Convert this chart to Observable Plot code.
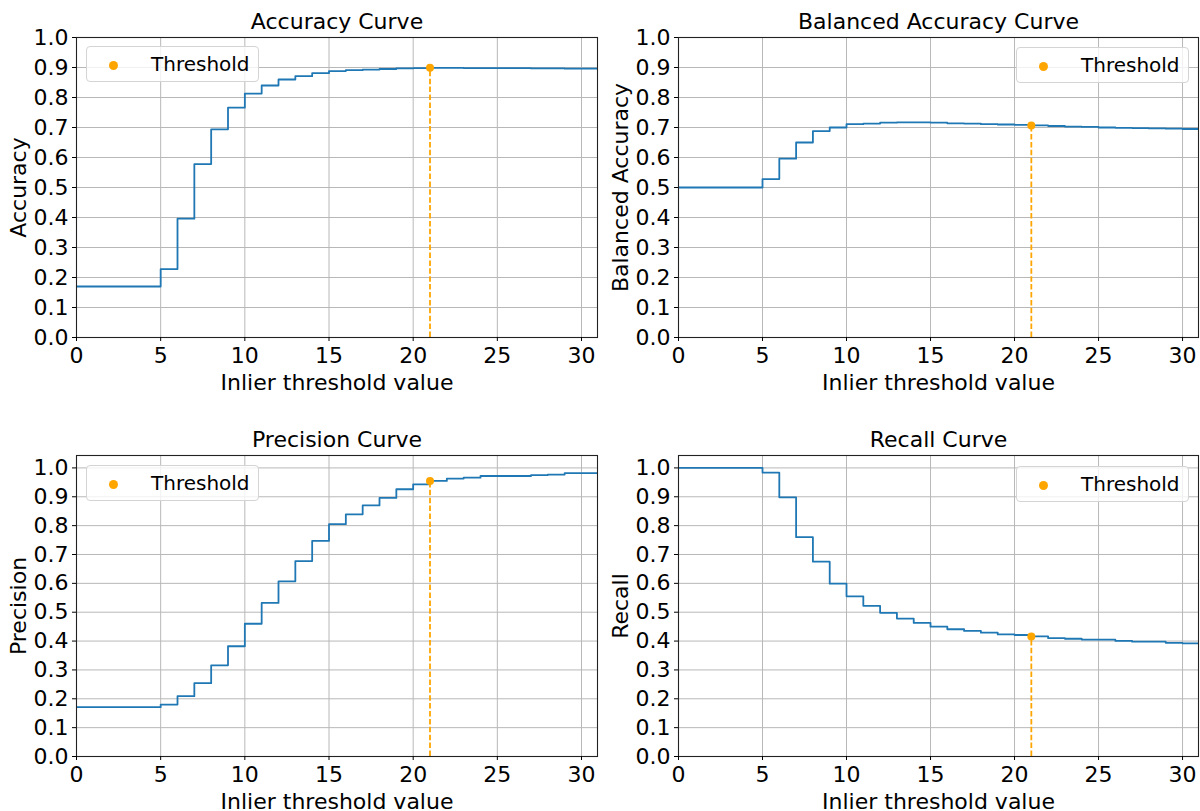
<!DOCTYPE html>
<html>
<head>
<meta charset="utf-8">
<script src="https://cdn.jsdelivr.net/npm/d3@7"></script>
<script src="https://cdn.jsdelivr.net/npm/@observablehq/plot@0.6"></script>
<style>
  html, body { margin: 0; padding: 0; background: #fff; }
  #fig { position: relative; width: 1200px; height: 811px; overflow: hidden; font-family: "DejaVu Sans", sans-serif; }
  .panel { position: absolute; }
  .legend { position: absolute; box-sizing: border-box; border: 1px solid #d4d4d4; border-radius: 4px; background: rgba(255,255,255,0.8); width: 173px; height: 36px; }
  .legend .dot { position: absolute; width: 9px; height: 9px; border-radius: 50%; background: orange; left: 22px; top: 14px; }
  .legend .lab { position: absolute; left: 64px; top: 7px; font-size: 20px; line-height: 20px; color: #000; white-space: nowrap; }
</style>
</head>
<body>
<div id="fig"></div>
<script>
// Inlier threshold values
const thresholds = [0,1,2,3,4,5,6,7,8,9,10,11,12,13,14,15,16,17,18,19,20,21,22,23,24,25,26,27,28,29,30,31];
const accuracy = [0.17,0.17,0.17,0.17,0.17,0.228,0.396,0.578,0.694,0.766,0.813,0.840,0.860,0.871,0.881,0.888,0.891,0.893,0.895,0.897,0.898,0.899,0.899,0.898,0.898,0.898,0.898,0.897,0.897,0.896,0.896,0.896];
const balancedAccuracy = [0.5,0.5,0.5,0.5,0.5,0.528,0.596,0.650,0.688,0.700,0.711,0.713,0.716,0.717,0.717,0.716,0.714,0.713,0.711,0.710,0.709,0.707,0.705,0.703,0.702,0.700,0.699,0.698,0.697,0.696,0.695,0.694];
const precision = [0.171,0.171,0.171,0.171,0.171,0.180,0.209,0.254,0.316,0.382,0.460,0.532,0.607,0.677,0.747,0.805,0.839,0.870,0.896,0.926,0.943,0.955,0.963,0.966,0.972,0.972,0.972,0.975,0.977,0.982,0.982,0.982];
const recall = [1.0,1.0,1.0,1.0,1.0,0.984,0.898,0.760,0.675,0.599,0.555,0.522,0.498,0.478,0.463,0.450,0.441,0.435,0.429,0.423,0.421,0.416,0.410,0.408,0.405,0.405,0.401,0.398,0.398,0.394,0.392,0.392];
const chosenThreshold = 21;
const xTicks = [0,5,10,15,20,25,30];
const yTicks = [0.0,0.1,0.2,0.3,0.4,0.5,0.6,0.7,0.8,0.9,1.0];
const legendLabel = "Threshold";
const xLabel = "Inlier threshold value";

const panels = [
  {title: "Accuracy Curve", ylabel: "Accuracy", values: accuracy, left: 0, top: 0, width: 600, height: 405, ml: 76, mr: 3, mt: 37, mb: 68, ymax: 1.0, legend: {left: 86, top: 46}},
  {title: "Balanced Accuracy Curve", ylabel: "Balanced Accuracy", values: balancedAccuracy, left: 600, top: 0, width: 600, height: 405, ml: 78, mr: 2, mt: 37, mb: 68, ymax: 1.0, legend: {left: 1016, top: 47}},
  {title: "Precision Curve", ylabel: "Precision", values: precision, left: 0, top: 405, width: 600, height: 406, ml: 76, mr: 3, mt: 50, mb: 55, ymax: 1.043, legend: {left: 86, top: 465}},
  {title: "Recall Curve", ylabel: "Recall", values: recall, left: 600, top: 405, width: 600, height: 406, ml: 78, mr: 2, mt: 50, mb: 55, ymax: 1.043, legend: {left: 1016, top: 466}}
];

const fig = document.getElementById("fig");

for (const p of panels) {
  const data = thresholds.map((t, i) => ({x: t, y: p.values[i]}));
  const thrVal = p.values[thresholds.indexOf(chosenThreshold)];
  const thr = [{x: chosenThreshold, y: thrVal, y0: 0}];
  const chart = Plot.plot({
    width: p.width,
    height: p.height,
    marginLeft: p.ml,
    marginRight: p.mr,
    marginTop: p.mt,
    marginBottom: p.mb,
    style: {fontFamily: "DejaVu Sans, sans-serif", fontSize: "22px", background: "transparent", overflow: "visible"},
    x: {domain: [0, 30.95]},
    y: {domain: [0, p.ymax]},
    marks: [
      Plot.gridX(xTicks, {stroke: "#b8b8b8", strokeOpacity: 1, strokeWidth: 1}),
      Plot.gridY(yTicks, {stroke: "#b8b8b8", strokeOpacity: 1, strokeWidth: 1}),
      Plot.line(data, {x: "x", y: "y", curve: "step-after", stroke: "#1f77b4", strokeWidth: 1.8, clip: true}),
      Plot.ruleX(thr, {x: "x", y1: "y0", y2: "y", stroke: "orange", strokeWidth: 1.8, strokeDasharray: "5.5,2.4"}),
      Plot.dot(thr, {x: "x", y: "y", r: 4, fill: "orange", stroke: "none"}),
      Plot.frame({stroke: "#222", strokeWidth: 1.1}),
      Plot.axisX({ticks: xTicks, tickSize: 4, tickPadding: 6, label: null, fontSize: 22, tickFormat: d => String(d)}),
      Plot.axisY({ticks: yTicks, tickSize: 4, tickPadding: 4, label: null, fontSize: 22, tickFormat: d => d.toFixed(1)}),
      Plot.text([p.title], {frameAnchor: "top", dy: -16, lineAnchor: "middle", fontSize: 22, fill: "#000"}),
      Plot.text([xLabel], {frameAnchor: "bottom", dy: 45, lineAnchor: "middle", fontSize: 22, fill: "#000"}),
      Plot.text([p.ylabel], {frameAnchor: "left", dx: -58, rotate: -90, lineAnchor: "middle", textAnchor: "middle", fontSize: 22, fill: "#000"})
    ]
  });
  const wrap = document.createElement("div");
  wrap.className = "panel";
  wrap.style.left = p.left + "px";
  wrap.style.top = p.top + "px";
  wrap.appendChild(chart);
  fig.appendChild(wrap);

  const lg = document.createElement("div");
  lg.className = "legend";
  lg.style.left = p.legend.left + "px";
  lg.style.top = p.legend.top + "px";
  const dot = document.createElement("span");
  dot.className = "dot";
  const lab = document.createElement("span");
  lab.className = "lab";
  lab.textContent = legendLabel;
  lg.appendChild(dot);
  lg.appendChild(lab);
  fig.appendChild(lg);
}
</script>
</body>
</html>
